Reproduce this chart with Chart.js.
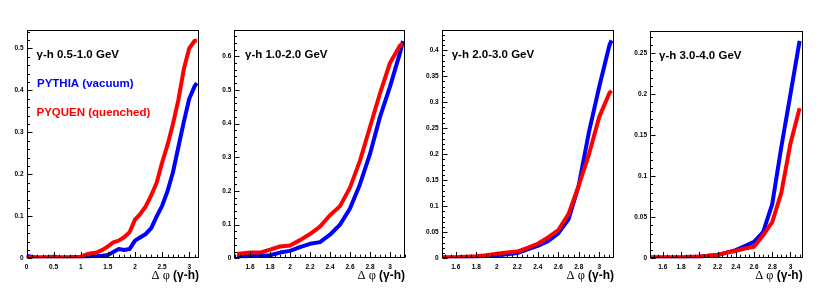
<!DOCTYPE html>
<html>
<head>
<meta charset="utf-8">
<script src="https://cdn.jsdelivr.net/npm/chart.js@4.4.0/dist/chart.umd.min.js"></script>
<style>
html, body { margin: 0; padding: 0; background: #fff; }
#wrap { position: relative; width: 830px; height: 290px; overflow: hidden; }
canvas { position: absolute; top: 0; }
</style>
</head>
<body>
<div id="wrap">
    <canvas id="c1" width="207" height="290" style="left:0px"></canvas>
    <canvas id="c2" width="208" height="290" style="left:207px"></canvas>
    <canvas id="c3" width="207" height="290" style="left:415px"></canvas>
    <canvas id="c4" width="208" height="290" style="left:622px"></canvas>
</div>
<script>
// --- datos ---
const titulos = ['γ-h 0.5-1.0 GeV', 'γ-h 1.0-2.0 GeV', 'γ-h 2.0-3.0 GeV', 'γ-h 3.0-4.0 GeV'];
const leyendaPythia = 'PYTHIA (vacuum)';
const leyendaPyquen = 'PYQUEN (quenched)';
const tituloEjeX = ['Δ φ', '(γ-h)'];

// panel 1: 0.5-1.0 GeV
const dphi1 = [0, 0.1, 0.2, 0.3, 0.4, 0.5, 0.6, 0.7, 0.8, 0.9, 1.0, 1.1, 1.2, 1.3, 1.4, 1.5, 1.6, 1.7, 1.8, 1.9,
    2.0, 2.1, 2.2, 2.3, 2.4, 2.5, 2.6, 2.7, 2.8, 2.9, 3.0, 3.1, 3.14];
const pythia1 = [0.006, 0.003, 0.002, 0.002, 0.002, 0.004, 0.002, 0.002, 0.002, 0.003, 0.002, 0.003, 0.005, 0.005, 0.006, 0.008, 0.015, 0.022, 0.02, 0.022,
    0.042, 0.05, 0.058, 0.072, 0.1, 0.125, 0.16, 0.205, 0.265, 0.325, 0.38, 0.41, 0.417];
const pyquen1 = [0.003, 0.002, 0.001, 0.002, 0.002, 0.003, 0.001, 0.002, 0.002, 0.003, 0.004, 0.009, 0.012, 0.014, 0.02, 0.028, 0.038, 0.042, 0.05, 0.062,
    0.092, 0.106, 0.124, 0.15, 0.18, 0.228, 0.27, 0.32, 0.377, 0.45, 0.5, 0.518, 0.518];

// panel 2: 1.0-2.0 GeV
const dphi2 = [1.47, 1.6, 1.7, 1.8, 1.9, 2.0, 2.1, 2.2, 2.3, 2.4, 2.5, 2.6, 2.7, 2.8, 2.9, 3.0, 3.1, 3.13];
const pythia2 = [0.004, 0.007, 0.008, 0.009, 0.017, 0.022, 0.033, 0.043, 0.048, 0.07, 0.1, 0.148, 0.22, 0.31, 0.42, 0.51, 0.61, 0.645];
const pyquen2 = [0.013, 0.017, 0.017, 0.026, 0.035, 0.038, 0.054, 0.072, 0.094, 0.128, 0.155, 0.21, 0.29, 0.39, 0.49, 0.58, 0.632, 0.637];

// panel 3: 2.0-3.0 GeV
const dphi3 = [1.47, 1.6, 1.7, 1.8, 1.9, 2.0, 2.1, 2.2, 2.3, 2.4, 2.5, 2.6, 2.7, 2.8, 2.9, 3.0, 3.1, 3.12];
const pythia3 = [0.001, 0.001, 0.002, 0.003, 0.005, 0.006, 0.008, 0.01, 0.017, 0.024, 0.033, 0.048, 0.075, 0.14, 0.243, 0.33, 0.41, 0.419];
const pyquen3 = [0.002, 0.002, 0.003, 0.004, 0.006, 0.009, 0.011, 0.013, 0.02, 0.028, 0.04, 0.054, 0.085, 0.14, 0.2, 0.272, 0.318, 0.322];

// panel 4: 3.0-4.0 GeV
const dphi4 = [1.47, 1.6, 1.7, 1.8, 1.9, 2.0, 2.1, 2.2, 2.3, 2.4, 2.5, 2.6, 2.7, 2.8, 2.9, 3.0, 3.1];
const pythia4 = [0.001, 0.001, 0.001, 0.001, 0.001, 0.002, 0.003, 0.004, 0.007, 0.01, 0.015, 0.02, 0.032, 0.066, 0.136, 0.2, 0.265];
const pyquen4 = [0.001, 0.001, 0.001, 0.001, 0.002, 0.002, 0.003, 0.004, 0.007, 0.009, 0.012, 0.014, 0.028, 0.044, 0.08, 0.14, 0.183];

const AZUL = '#0000ff';
const ROJO = '#ff0000';

// configuracion de cada panel (ejes y margenes)
const paneles = [
    { id: 'c1', x: dphi1, azul: pythia1, rojo: pyquen1, xMin: 0, xMax: 3.18, xPaso: 0.5, xMenor: 0.1,
      yMax: 0.5436, yPaso: 0.1, yMenor: 0.02, izq: 26.5, der: 8, arriba: 30, textoX: 10, leyenda: true },
    { id: 'c2', x: dphi2, azul: pythia2, rojo: pyquen2, xMin: 1.443, xMax: 3.15, xPaso: 0.2, xMenor: 0.05,
      yMax: 0.678, yPaso: 0.1, yMenor: 0.02, izq: 27.3, der: 10, arriba: 30, textoX: 10.7, leyenda: false },
    { id: 'c3', x: dphi3, azul: pythia3, rojo: pyquen3, xMin: 1.463, xMax: 3.144, xPaso: 0.2, xMenor: 0.05,
      yMax: 0.439, yPaso: 0.05, yMenor: 0.01, izq: 26.7, der: 8, arriba: 30, textoX: 10, leyenda: false },
    { id: 'c4', x: dphi4, azul: pythia4, rojo: pyquen4, xMin: 1.46, xMax: 3.134, xPaso: 0.2, xMenor: 0.05,
      yMax: 0.277, yPaso: 0.05, yMenor: 0.01, izq: 28, der: 27.3, arriba: 31, textoX: 9, leyenda: false }
];

const FUENTE = 'Liberation Sans, Arial, Helvetica, sans-serif';

function esMayor(v, paso) {
    const r = v / paso;
    return Math.abs(r - Math.round(r)) < 1e-6;
}

// etiquetas como en ROOT: sin ceros sobrantes (2, 3, 0.4 ...)
function etiqueta(v) {
    return String(parseFloat(Number(v).toFixed(3)));
}

// marco y ticks estilo ROOT (hacia adentro), mas textos
const marcoRoot = {
    id: 'marcoRoot',
    afterDatasetsDraw(chart, args, o) {
        const { ctx, chartArea: a, scales } = chart;
        const L = Math.round(a.left) + 0.5, R = Math.round(a.right) - 0.5;
        const T = Math.round(a.top) + 0.5, B = Math.round(a.bottom) - 0.5;
        ctx.save();
        ctx.strokeStyle = '#000';
        ctx.lineWidth = 1;
        ctx.strokeRect(L, T, R - L, B - T);

        ctx.beginPath();
        // eje x
        const sx = scales.x;
        for (let v = Math.ceil(sx.min / o.xMenor - 1e-6) * o.xMenor; v <= sx.max + 1e-9; v += o.xMenor) {
            const px = Math.round(sx.getPixelForValue(v)) + 0.5;
            const len = esMayor(v, o.xPaso) ? 5.5 : 2.8;
            ctx.moveTo(px, B);
            ctx.lineTo(px, B - len);
        }
        // eje y
        const sy = scales.y;
        for (let v = 0; v <= sy.max + 1e-9; v += o.yMenor) {
            const py = Math.round(sy.getPixelForValue(v)) + 0.5;
            const len = esMayor(v, o.yPaso) ? 5 : 2.5;
            ctx.moveTo(L, py);
            ctx.lineTo(L + len, py);
        }
        ctx.stroke();

        // titulo del panel y leyenda
        ctx.textAlign = 'left';
        ctx.textBaseline = 'alphabetic';
        ctx.font = 'bold 11.5px ' + FUENTE;
        ctx.fillStyle = '#000';
        ctx.fillText(o.titulo, a.left + o.textoX, a.top + 28);
        if (o.leyenda) {
            ctx.fillStyle = AZUL;
            ctx.fillText(leyendaPythia, a.left + o.textoX + 0.5, a.top + 57);
            ctx.fillStyle = ROJO;
            ctx.fillText(leyendaPyquen, a.left + o.textoX, a.top + 85.7);
        }

        // titulo del eje x, alineado a la derecha
        ctx.fillStyle = '#000';
        const fSerif = '12.5px Liberation Serif, Times New Roman, serif';
        const fBold = 'bold 12px ' + FUENTE;
        ctx.font = fBold;
        const w2 = ctx.measureText(tituloEjeX[1]).width;
        ctx.font = fSerif;
        const w1 = ctx.measureText(tituloEjeX[0] + ' ').width;
        const x0 = a.right - w1 - w2;
        ctx.fillText(tituloEjeX[0] + ' ', x0, 279);
        ctx.font = fBold;
        ctx.fillText(tituloEjeX[1], x0 + w1, 279);
        ctx.restore();
    }
};

const fuenteTicks = { family: FUENTE, size: 6.5, weight: 'bold' };

paneles.forEach(function (p, i) {
    const canvas = document.getElementById(p.id);
    const puntos = (ys) => p.x.map((x, k) => ({ x: x, y: ys[k] }));

    new Chart(canvas, {
        type: 'line',
        data: {
            datasets: [
                { label: leyendaPyquen, data: puntos(p.rojo), borderColor: ROJO },
                { label: leyendaPythia, data: puntos(p.azul), borderColor: AZUL }
            ]
        },
        options: {
            responsive: false,
            animation: false,
            devicePixelRatio: 1,
            layout: { padding: { left: 0, right: p.der, top: p.arriba, bottom: 0 } },
            elements: {
                point: { radius: 0 },
                line: { borderWidth: 4, tension: 0, borderJoinStyle: 'round', borderCapStyle: 'butt', fill: false }
            },
            plugins: {
                legend: { display: false },
                tooltip: { enabled: false },
                marcoRoot: {
                    titulo: titulos[i], leyenda: p.leyenda, textoX: p.textoX,
                    xPaso: p.xPaso, xMenor: p.xMenor, yPaso: p.yPaso, yMenor: p.yMenor
                }
            },
            scales: {
                x: {
                    type: 'linear', min: p.xMin, max: p.xMax,
                    grid: { display: false, drawTicks: false },
                    border: { display: false },
                    ticks: {
                        stepSize: p.xPaso, includeBounds: false, autoSkip: false, maxRotation: 0,
                        padding: 5.5, color: '#000', font: fuenteTicks, callback: etiqueta
                    },
                    afterFit: function (s) { s.height = 290 - 258.3; }
                },
                y: {
                    type: 'linear', min: 0, max: p.yMax,
                    grid: { display: false, drawTicks: false },
                    border: { display: false },
                    ticks: {
                        stepSize: p.yPaso, includeBounds: false, autoSkip: false,
                        padding: 3, color: '#000', font: fuenteTicks, callback: etiqueta
                    },
                    afterFit: function (s) { s.width = p.izq; }
                }
            }
        },
        plugins: [marcoRoot]
    });
});
</script>
</body>
</html>
